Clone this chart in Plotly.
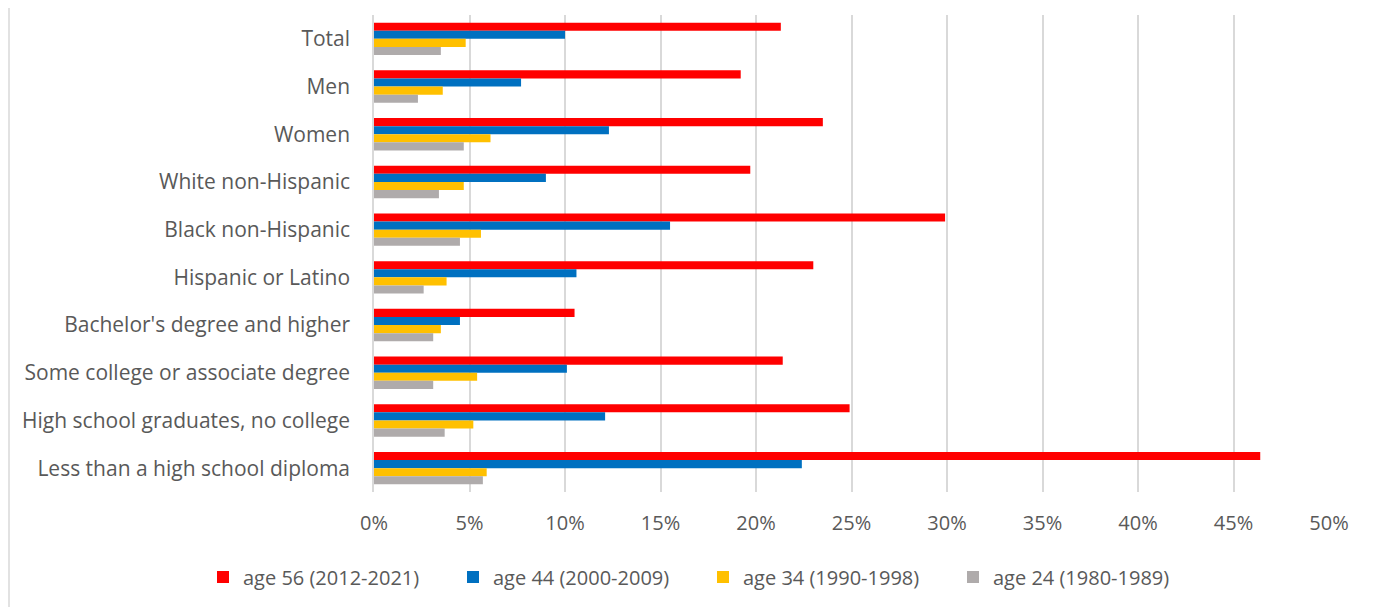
import plotly.graph_objects as go

categories = [
    "Total", "Men", "Women", "White non-Hispanic", "Black non-Hispanic",
    "Hispanic or Latino", "Bachelor's degree and higher",
    "Some college or associate degree", "High school graduates, no college",
    "Less than a high school diploma",
]
age56 = [21.3, 19.2, 23.5, 19.7, 29.9, 23.0, 10.5, 21.4, 24.9, 46.4]
age44 = [10.0, 7.7, 12.3, 9.0, 15.5, 10.6, 4.5, 10.1, 12.1, 22.4]
age34 = [4.8, 3.6, 6.1, 4.7, 5.6, 3.8, 3.5, 5.4, 5.2, 5.9]
age24 = [3.5, 2.3, 4.7, 3.4, 4.5, 2.6, 3.1, 3.1, 3.7, 5.7]
series_names = ["age 56 (2012-2021)", "age 44 (2000-2009)", "age 34 (1990-1998)", "age 24 (1980-1989)"]
colors = ["#FF0000", "#0070C0", "#FFC000", "#AFABAB"]

font_family = "Open Sans, Liberation Sans, sans-serif"
text_color = "#595959"

PW, PH = 955, 477
L, T = 366, 7
R = 1382 - L - PW
B = 607 - T - PH

fig = go.Figure()
for name, vals, col in zip(series_names, [age56, age44, age34, age24], colors):
    fig.add_trace(go.Bar(
        y=categories, x=vals, name=name, orientation="h",
        marker=dict(color=col, line=dict(width=0)),
    ))

fig.update_layout(
    width=1382, height=607,
    barmode="group", bargap=0.32, bargroupgap=0,
    plot_bgcolor="white", paper_bgcolor="white",
    margin=dict(l=L, r=R, t=T, b=B, autoexpand=False),
    font=dict(family=font_family, size=20, color=text_color),
    xaxis=dict(
        range=[0, 50], dtick=5, ticksuffix="%",
        showgrid=True, gridcolor="#D9D9D9", gridwidth=1.5,
        zeroline=False, showline=False, ticks="", automargin=False,
        ticklabelstandoff=17,
        tickfont=dict(size=20, color=text_color),
    ),
    yaxis=dict(
        autorange="reversed", showgrid=False, zeroline=False,
        showline=True, linecolor="#D9D9D9", linewidth=1.5,
        ticks="", ticklabelstandoff=18, automargin=False,
        tickfont=dict(size=21, color=text_color),
    ),
    legend=dict(
        orientation="h", xref="paper", yref="paper",
        x=(195 - L)/PW, xanchor="left", y=-85/PH, yanchor="middle",
        font=dict(size=20, color=text_color), entrywidth=205,
        traceorder="normal",
    ),
    shapes=[dict(type="line", xref="paper", yref="paper",
                 x0=-(L - 1)/PW, x1=-(L - 1)/PW, y0=-B/PH, y1=1 + T/PH,
                 line=dict(color="#D9D9D9", width=1.5))],
)

fig.write_html("out.html")
